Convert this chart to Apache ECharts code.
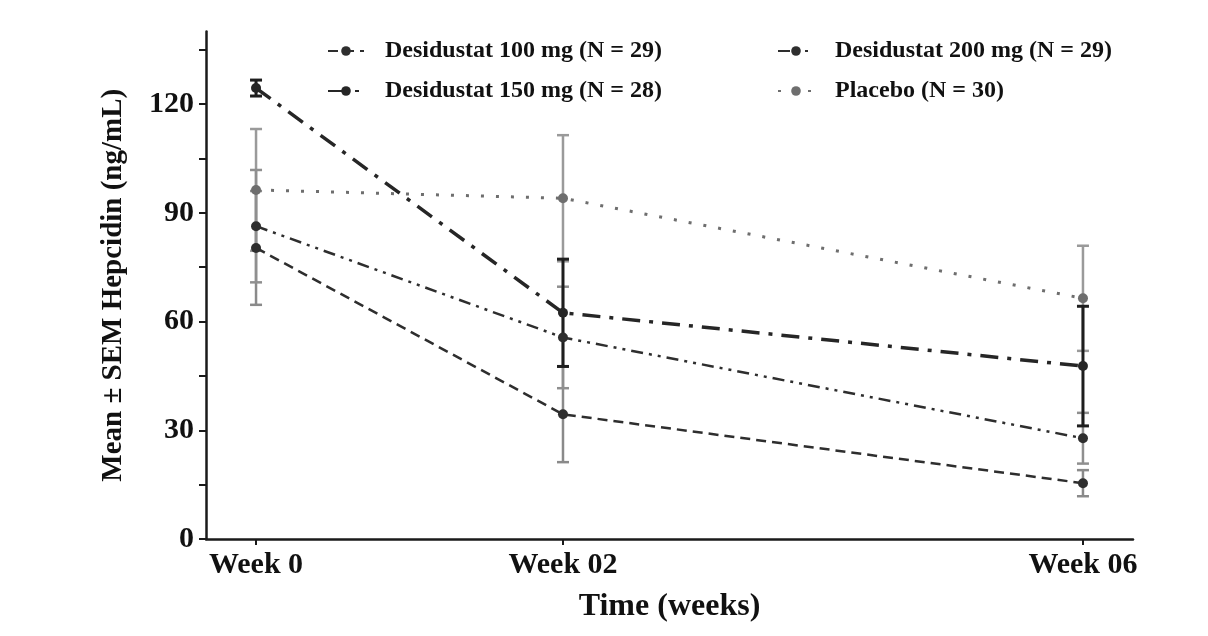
<!DOCTYPE html>
<html>
<head>
<meta charset="utf-8">
<script src="https://cdn.jsdelivr.net/npm/echarts@6/dist/echarts.min.js"></script>
<style>html,body{margin:0;padding:0;background:#fff}#c{width:1208px;height:636px}</style>
</head>
<body>
<div id="c"></div>
<script>
// ---- data ----
const weekLabels = ['Week 0', 'Week 02', 'Week 06'];
const weekPos = [0, 1, 2.694];            // horizontal placement of the three visits
const yTicks = [0, 30, 60, 90, 120];
const yMinorTicks = [0, 15, 30, 45, 60, 75, 90, 105, 120, 135];

const seriesNames = ['Desidustat 100 mg (N = 29)', 'Desidustat 150 mg (N = 28)', 'Desidustat 200 mg (N = 29)', 'Placebo (N = 30)'];
const d100Mean = [80.3, 34.4, 15.4];
const d100Sem  = [15.7, 13.2, 3.6];
const d150Mean = [124.4, 62.4, 47.7];
const d150Sem  = [2.2, 14.8, 16.5];
const d200Mean = [86.3, 55.6, 27.8];
const d200Sem  = [15.5, 14.0, 7.0];
const plcMean  = [96.3, 94.0, 66.4];
const plcSem   = [16.8, 17.4, 14.5];

const FONT = '"Liberation Serif", "DejaVu Serif", serif';

function pts(mean) { return mean.map((v, i) => [weekPos[i], v]); }
function errData(mean, sem) { return mean.map((v, i) => [weekPos[i], v - sem[i], v + sem[i]]); }

function errSeries(name, mean, sem, color, width, z) {
  return {
    type: 'custom', name: name + ' err', z: z, silent: true,
    renderItem: function (params, api) {
      const x = api.value(0);
      const lo = api.coord([x, api.value(1)]);
      const hi = api.coord([x, api.value(2)]);
      const hw = 6;
      const st = { stroke: color, lineWidth: width };
      return {
        type: 'group', children: [
          { type: 'line', shape: { x1: lo[0], y1: lo[1], x2: hi[0], y2: hi[1] }, style: st },
          { type: 'line', shape: { x1: lo[0] - hw, y1: lo[1], x2: lo[0] + hw, y2: lo[1] }, style: st },
          { type: 'line', shape: { x1: hi[0] - hw, y1: hi[1], x2: hi[0] + hw, y2: hi[1] }, style: st }
        ]
      };
    },
    encode: { x: 0, y: [1, 2] },
    data: errData(mean, sem)
  };
}

function lineSeries(name, mean, color, width, dash, z) {
  return {
    type: 'line', name: name, z: z,
    data: pts(mean),
    symbol: 'circle', symbolSize: 10,
    itemStyle: { color: color },
    lineStyle: { color: color, width: width, type: dash },
    animation: false
  };
}

const legendText = { fontFamily: FONT, fontWeight: 'bold', fontSize: 24, color: '#111', padding: [0, 0, 0, 16] };

const chart = echarts.init(document.getElementById('c'), null, { renderer: 'canvas' });
chart.setOption({
  animation: false,
  backgroundColor: '#fff',
  grid: { left: 206, right: 75, top: 31.5, bottom: 97 },
  legend: [
    {
      data: [seriesNames[0], seriesNames[1]], orient: 'vertical', left: 322, top: 34,
      itemWidth: 36, itemHeight: 12, itemGap: 16, textStyle: legendText
    },
    {
      data: [seriesNames[2], seriesNames[3]], orient: 'vertical', left: 772, top: 34,
      itemWidth: 36, itemHeight: 12, itemGap: 16, textStyle: legendText
    }
  ],
  xAxis: {
    type: 'value', min: -0.163, max: 2.857,
    name: 'Time (weeks)', nameLocation: 'middle', nameGap: 52,
    nameTextStyle: { fontFamily: FONT, fontWeight: 'bold', fontSize: 32, color: '#111' },
    splitLine: { show: false },
    axisLine: { onZero: false, lineStyle: { color: '#1a1a1a', width: 2.5 } },
    axisTick: { show: true, customValues: weekPos, length: 6, lineStyle: { color: '#1a1a1a', width: 2 } },
    axisLabel: {
      customValues: weekPos, margin: 11,
      formatter: function (v) { const i = weekPos.findIndex(p => Math.abs(p - v) < 1e-6); return i >= 0 ? weekLabels[i] : ''; },
      fontFamily: FONT, fontWeight: 'bold', fontSize: 30, color: '#111'
    }
  },
  yAxis: {
    type: 'value', min: 0, max: 140,
    name: 'Mean ± SEM Hepcidin (ng/mL)', nameLocation: 'middle', nameGap: 78, nameRotate: 90,
    nameTextStyle: { fontFamily: FONT, fontWeight: 'bold', fontSize: 29, color: '#111' },
    splitLine: { show: false },
    axisLine: { show: true, onZero: false, lineStyle: { color: '#1a1a1a', width: 2.5 } },
    axisTick: { show: true, customValues: yMinorTicks, length: 7, lineStyle: { color: '#1a1a1a', width: 2 } },
    axisLabel: { customValues: yTicks, margin: 12, fontFamily: FONT, fontWeight: 'bold', fontSize: 30, color: '#111' }
  },
  series: [
    errSeries('p', plcMean, plcSem, '#9a9a9a', 2.5, 1),
    errSeries('a', d100Mean, d100Sem, '#8a8a8a', 2.5, 1),
    errSeries('c', d200Mean, d200Sem, '#8f8f8f', 2.5, 1),
    errSeries('b', d150Mean, d150Sem, '#1e1e1e', 3, 2),
    lineSeries(seriesNames[3], plcMean, '#6e6e6e', 3, [3, 12], 3),
    lineSeries(seriesNames[0], d100Mean, '#2e2e2e', 2.5, [10, 6], 3),
    lineSeries(seriesNames[2], d200Mean, '#2e2e2e', 2.5, [12, 6, 3, 6, 3, 6], 3),
    lineSeries(seriesNames[1], d150Mean, '#262626', 3.5, [18, 9, 4, 9], 4)
  ]
});
</script>
</body>
</html>
